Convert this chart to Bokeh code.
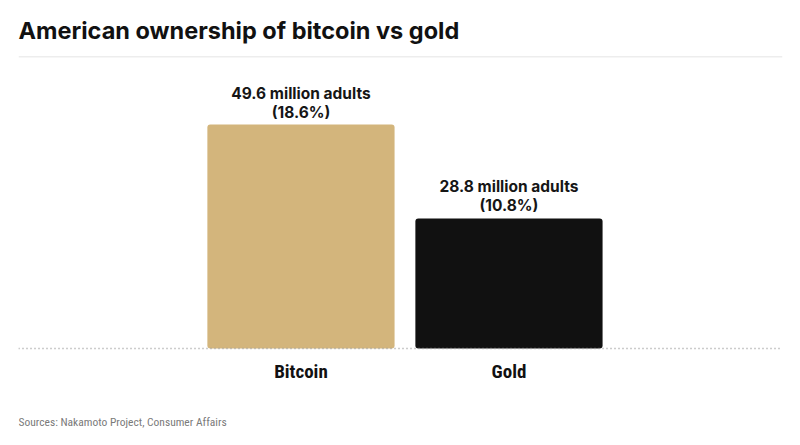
from bokeh.plotting import figure
from bokeh.models import Range1d, FixedTicker, Span, Title, Label, ColumnDataSource
from bokeh.core.properties import value
from bokeh.embed import file_html
from bokeh.resources import INLINE

# ---- data ----
categories = ["Bitcoin", "Gold"]
adults_millions = [49.6, 28.8]
share_pct = [18.6, 10.8]
bar_colors = ["#d3b57c", "#111111"]
title_text = "American ownership of bitcoin vs gold"
source_text = "Sources: Nakamoto Project, Consumer Affairs"

W, H = 784, 429
px_per_unit = 224 / 18.6
y_end = 292 / px_per_unit
y_start = -(H - 348) / px_per_unit
X0, X1 = -1.358, 2.315
COND = "Roboto Condensed, DejaVu Sans Condensed, Roboto"

xs = list(range(len(categories)))
labels = [f"{a} million adults\n({s}%)" for a, s in zip(adults_millions, share_pct)]
src = ColumnDataSource(dict(x=xs, top=share_pct, color=bar_colors, label=labels))

p = figure(width=W, height=H, output_backend="svg", toolbar_location=None,
           x_range=Range1d(X0, X1), y_range=Range1d(y_start, y_end),
           y_axis_type=None, min_border_left=18, min_border_right=2,
           min_border_top=56, min_border_bottom=0,
           title=Title(text=title_text, align="left", text_font="Inter",
                       text_font_style="bold", text_font_size="23.5px",
                       text_color="#111111", standoff=24, offset=0))
p.outline_line_color = None
p.xgrid.grid_line_color = None
p.ygrid.grid_line_color = None
p.background_fill_color = "white"
p.border_fill_color = "white"

p.vbar(x="x", top="top", bottom=0, width=0.9, fill_color="color", line_color=None,
       border_radius=3, source=src)

p.text(x="x", y="top", text="label", source=src, text_align="center",
       text_baseline="bottom", y_offset=-3, text_font=value("Inter"),
       text_font_style="bold", text_font_size="15.5px", text_color="#161616",
       text_line_height=1.0)

ax = p.xaxis[0]
ax.fixed_location = 0
ax.ticker = FixedTicker(ticks=xs)
ax.major_label_overrides = {i: c for i, c in zip(xs, categories)}
ax.axis_line_color = "#9a9a9a"
ax.axis_line_dash = "1 3"
ax.axis_line_width = 1.5
ax.major_tick_line_color = None
ax.minor_tick_line_color = None
ax.major_tick_out = 0
ax.major_label_standoff = 11
ax.major_label_text_font = COND
ax.major_label_text_font_style = "bold"
ax.major_label_text_font_size = "19px"
ax.major_label_text_color = "#111111"

p.add_layout(Span(location=y_end, dimension="width", line_color="#dcdcdc", line_width=1.5))

p.add_layout(Label(x=X0, y=-(421 - 348) / px_per_unit, text=source_text,
                   text_font=COND, text_font_size="11.5px",
                   text_color="#7a7a7a", text_baseline="middle", text_align="left"))

open("out.html", "w").write(file_html(p, INLINE))
